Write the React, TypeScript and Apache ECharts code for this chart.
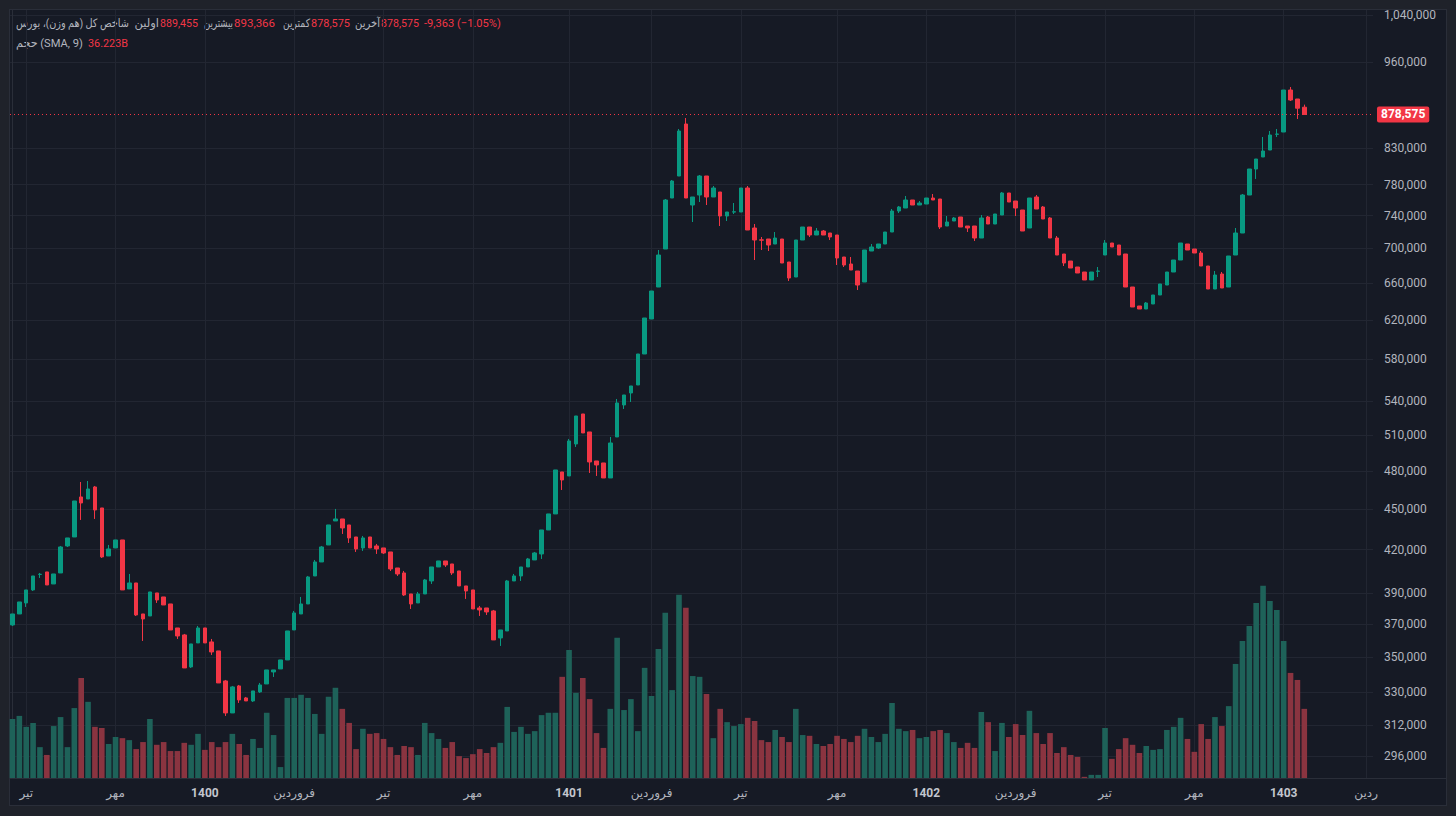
import React, { useEffect, useRef } from "react";
import * as echarts from "echarts";

// weekly candles: [open, close, low, high]
const OHLC: number[][] = [
  [369670, 376630, 369040, 376630], [376630, 384370, 376630, 384370], [383720, 392280, 381130, 392280], [392280, 401700, 391610, 401700],
  [402700, 402900, 400340, 403750], [404440, 395620, 395620, 404440], [396290, 403060, 396290, 403060], [403750, 421950, 403750, 422660],
  [422660, 428450, 421950, 428450], [429150, 456170, 429150, 456170], [459280, 454640, 441720, 471110], [457730, 465550, 457730, 471910],
  [467130, 449270, 442470, 467920], [450800, 414860, 414150, 450800], [415560, 420520, 415560, 423380], [421240, 426990, 421240, 426990],
  [426990, 392280, 392280, 426990], [392950, 396960, 392950, 403060], [396960, 375990, 375350, 396960], [376630, 373450, 359780, 376630],
  [375350, 390950, 375350, 390950], [390290, 385680, 383720, 390290], [387650, 382420, 382420, 387650], [383070, 366550, 366550, 383070],
  [367790, 362840, 361000, 367790], [363460, 343680, 343680, 364080], [344270, 357960, 343680, 357960], [358570, 367790, 358570, 369040],
  [367790, 358570, 358570, 367790], [359170, 353130, 351340, 361000], [353730, 335050, 335050, 353730], [336190, 318430, 316810, 336760],
  [318430, 332790, 318430, 333350], [333350, 325530, 323880, 333910], [326640, 324980, 324980, 327190], [324980, 330540, 324430, 330540],
  [329980, 333910, 329420, 335050], [334480, 342520, 334480, 342520], [341360, 342520, 338470, 342520], [343100, 348380, 343100, 348380],
  [348380, 365930, 348380, 365930], [366550, 377270, 366550, 378560], [376630, 383070, 376630, 387650], [383070, 401020, 383070, 401700],
  [401700, 411350, 401700, 412750], [411350, 421950, 411350, 422660], [423380, 437990, 423380, 437990], [440970, 442470, 440970, 450040],
  [442470, 435770, 431350, 442470], [437990, 428450, 424820, 437990], [429150, 420520, 418390, 429150], [421240, 428450, 419100, 429890],
  [429150, 421240, 421240, 429150], [422660, 420520, 416970, 424100], [421240, 417680, 416970, 421240], [418390, 406500, 405120, 418390],
  [407190, 403060, 401700, 407190], [403750, 388960, 388310, 405120], [389620, 383070, 379840, 389620], [383720, 389620, 383720, 390950],
  [389620, 398980, 389620, 399660], [398310, 407880, 396290, 407880], [407880, 412050, 407880, 412050], [412050, 409260, 407880, 412050],
  [409960, 403750, 402380, 409960], [405120, 394950, 394950, 405120], [394950, 391610, 386340, 394950], [392280, 379840, 379840, 392280],
  [380480, 379200, 375350, 381770], [380480, 377920, 375990, 380480], [378560, 360390, 360390, 379200], [361620, 366550, 356750, 366550],
  [365930, 398310, 365930, 398980], [398310, 401700, 398310, 403060], [401700, 407880, 398310, 407880], [407880, 413450, 407880, 414150],
  [412750, 417680, 412750, 418390], [416970, 434290, 413450, 434290], [434290, 446240, 434290, 446240], [446240, 480800, 446240, 480800],
  [479170, 472710, 464760, 479170], [475930, 505030, 475930, 506750], [502470, 526900, 499920, 526900], [528690, 511920, 511920, 528690],
  [512800, 487370, 478360, 512800], [488190, 484890, 475930, 488190], [486540, 474320, 474320, 486540], [474320, 503320, 474320, 508470],
  [508470, 538650, 508470, 542310], [536820, 546000, 533190, 546000], [547860, 554390, 539560, 554390], [555330, 585300, 555330, 585300],
  [585300, 622140, 585300, 622140], [621080, 651280, 621080, 651280], [655710, 692270, 655710, 698160], [699350, 759950, 699350, 761240],
  [762530, 784830, 762530, 786170], [791520, 854280, 791520, 857190], [864480, 762530, 762530, 873330], [753530, 763830, 732110, 763830],
  [766420, 791520, 757380, 792860], [791520, 763830, 753530, 791520], [763830, 775580, 763830, 778210], [770350, 739600, 727170, 770350],
  [739600, 744640, 733360, 744640], [744500, 745020, 742120, 756090], [744640, 775580, 744640, 775580], [775580, 722250, 722250, 778210],
  [724700, 710110, 686420, 729640], [710300, 709900, 698160, 713730], [711310, 704110, 696980, 711310], [705300, 712520, 705300, 719810],
  [711310, 682940, 682940, 711310], [684100, 665800, 662420, 684100], [666920, 710110, 666920, 710110], [710110, 725940, 710110, 725940],
  [725940, 716150, 713730, 725940], [716150, 721030, 716150, 724700], [721030, 716150, 716150, 722250], [718590, 713730, 710110, 718590],
  [716150, 688750, 680630, 716150], [689920, 680630, 678330, 689920], [681790, 674880, 674880, 689920], [673740, 657940, 652380, 673740],
  [661290, 698160, 661290, 698160], [696980, 701730, 696980, 705300], [700540, 705300, 699350, 705300], [705300, 719810, 705300, 719810],
  [719810, 745900, 719810, 748440], [745900, 750990, 743380, 752260], [749710, 759950, 749710, 765120], [759950, 753530, 753530, 759950],
  [753530, 756090, 753530, 758660], [754810, 762530, 754810, 762530], [762530, 759950, 759950, 767720], [761240, 725940, 723480, 761240],
  [727170, 732110, 727170, 739600], [733360, 737100, 733360, 738350], [738350, 725940, 725940, 738350], [727170, 724700, 719810, 727170],
  [727170, 712520, 708900, 727170], [712520, 737100, 712520, 740860], [738350, 729640, 729640, 739600], [729640, 742120, 729640, 742120],
  [740860, 769030, 740860, 770350], [769030, 757380, 757380, 769030], [758660, 749710, 739600, 758660], [747170, 721030, 721030, 747170],
  [724700, 762530, 724700, 762530], [763830, 748440, 748440, 766420], [750990, 735850, 735850, 752260], [737100, 712520, 712520, 738350],
  [712520, 692270, 692270, 714940], [693440, 682940, 679480, 693440], [685250, 677180, 677180, 685250], [678330, 671460, 671460, 678330],
  [672600, 663540, 663540, 672600], [663540, 672600, 663540, 672600], [673400, 673740, 666920, 678330], [692270, 706500, 692270, 710110],
  [706500, 701730, 701730, 706500], [704110, 692270, 692270, 704110], [693440, 655710, 655710, 693440], [655710, 633850, 633850, 655710],
  [634920, 631700, 631700, 634920], [631700, 638160, 631700, 639240], [637080, 646880, 637080, 646880], [646880, 659060, 646880, 659060],
  [657940, 672600, 657940, 672600], [672600, 686420, 672600, 686420], [686420, 706500, 686420, 706500], [705300, 698160, 698160, 705300],
  [699350, 694620, 694620, 699350], [694620, 679480, 679480, 696980], [679480, 653490, 653490, 679480], [653490, 669190, 653490, 673740],
  [670320, 654600, 654600, 672600], [655710, 691100, 655710, 691100], [692270, 718590, 692270, 724700], [718590, 766420, 718590, 767720],
  [766420, 800970, 766420, 800970], [800970, 814670, 787510, 814670], [817440, 825790, 817440, 845640], [827200, 848510, 827200, 854280],
  [849500, 849950, 845640, 857190], [852830, 915790, 852830, 915790], [915790, 900390, 898860, 920470], [901920, 887938, 871850, 901920],
  [889455, 878575, 878575, 893366],
];

// weekly volume, billions
const VOLUME_B: number[] = [
  15.1, 15.9, 13.1, 14.1, 7.9, 5.9, 13.3, 15.6, 7.9, 17.9,
  25.6, 19.5, 13.1, 12.8, 8.7, 10.5, 10.2, 9.7, 7.4, 9.2,
  15.1, 8.5, 9.2, 6.9, 6.9, 9.0, 8.5, 11.3, 7.2, 9.2,
  7.9, 9.2, 11.3, 8.7, 5.9, 10.0, 7.7, 16.7, 11.0, 2.8,
  20.5, 20.5, 21.3, 20.5, 16.4, 11.3, 20.8, 23.1, 17.7, 14.1,
  7.4, 12.6, 11.3, 11.5, 10.0, 7.9, 5.9, 8.2, 7.9, 5.9,
  14.1, 11.5, 10.0, 7.7, 9.2, 5.6, 5.1, 6.1, 7.4, 6.4,
  7.9, 9.0, 18.2, 11.8, 13.1, 11.3, 12.0, 16.1, 16.7, 16.7,
  25.9, 32.8, 21.8, 25.6, 20.2, 11.5, 7.7, 17.7, 35.9, 17.4,
  20.2, 12.0, 28.2, 21.0, 33.0, 42.3, 22.5, 46.9, 43.6, 26.1,
  25.9, 21.5, 10.2, 17.7, 14.3, 13.3, 13.8, 15.4, 14.6, 9.7,
  9.2, 12.3, 10.5, 9.2, 17.7, 11.0, 10.8, 8.7, 8.2, 8.7,
  10.8, 10.0, 9.2, 10.8, 12.6, 10.5, 9.2, 11.3, 19.2, 12.6,
  12.0, 12.3, 10.2, 10.5, 12.0, 12.3, 11.5, 9.2, 7.7, 9.0,
  7.7, 16.9, 14.3, 6.9, 14.1, 10.5, 13.8, 11.0, 17.2, 11.5,
  8.7, 11.5, 6.4, 7.9, 5.9, 5.4, 0.3, 0.8, 0.8, 12.8,
  4.9, 7.4, 10.2, 8.5, 6.4, 8.2, 7.2, 7.4, 12.3, 13.1,
  15.4, 10.0, 6.7, 13.8, 10.0, 15.6, 13.3, 18.4, 29.2, 35.1,
  38.9, 44.8, 49.2, 45.3, 43.0, 35.1, 26.9, 25.1, 17.7,
];

const PRICE_TICKS = [296000, 312000, 330000, 350000, 370000, 390000, 420000, 450000, 480000, 510000, 540000, 580000, 620000, 660000, 700000, 740000, 780000, 830000, 960000, 1040000];
const TIME_TICK_INDEX = [2, 15, 28, 41, 54, 67, 81, 93, 106, 120, 133, 146, 159, 172, 185, 197];
const TIME_TICK_LABELS = ["تیر", "مهر", "1400", "فروردین", "تیر", "مهر", "1401", "فروردین", "تیر", "مهر", "1402", "فروردین", "تیر", "مهر", "1403", "ردین"];
const YEAR_LABELS = ["1400", "1401", "1402", "1403"];

const TITLE = "شاخص کل (هم وزن)، بورس";
const LBL_OPEN = "اولین";
const LBL_HIGH = "بیشترین";
const LBL_LOW = "کمترین";
const LBL_CLOSE = "آخرین";
const VOL_TITLE = "حجم (SMA, 9)";
const VOL_SMA_TEXT = "36.223B";

const UP = "#089981";
const DOWN = "#f23645";
const UP_VOL = "#1e6259";
const DOWN_VOL = "#8a3440";
const TEXT = "#b2b5be";
const GRID_LINE = "#222632";
const BORDER = "#2a2e39";
const FONT = "Roboto, 'DejaVu Sans', sans-serif";
const HEADER_SIZE = 11.5;

const fmt = (v: number) => Math.round(v).toLocaleString("en-US");

let measureCtx: CanvasRenderingContext2D | null = null;
function measure(text: string, size: number) {
  if (!measureCtx) measureCtx = document.createElement("canvas").getContext("2d");
  if (!measureCtx) return text.length * size * 0.55;
  measureCtx.font = `${size}px ${FONT}`;
  return measureCtx.measureText(text).width;
}

function buildOption() {
  const last = OHLC[OHLC.length - 1];
  const prevClose = OHLC[OHLC.length - 2][1];
  const change = last[1] - prevClose;
  const pct = (change / prevClose) * 100;
  const changeText = `${change < 0 ? "-" : ""}${fmt(Math.abs(change))} (${pct < 0 ? "−" : ""}${Math.abs(pct).toFixed(2)}%)`;

  const candleData = OHLC.map((d, i) => [i, d[0], d[1], d[2], d[3]]);
  const volData = VOLUME_B.map((v, i) => ({
    value: [i, v],
    itemStyle: { color: OHLC[i][1] >= OHLC[i][0] ? UP_VOL : DOWN_VOL },
  }));

  // text placed at x; fitted horizontally into maxW (only compressed, never stretched)
  const t = (text: string, x: number, y: number, fill: string, align: string = "left", maxW?: number) => {
    let sx = 1;
    if (maxW) {
      const w = measure(text, HEADER_SIZE);
      if (w > maxW) sx = maxW / w;
    }
    return {
      type: "text",
      x,
      y,
      scaleX: sx,
      silent: true,
      style: { text, fill, fontSize: HEADER_SIZE, fontFamily: FONT, align, verticalAlign: "middle" },
    };
  };

  return {
    animation: false,
    backgroundColor: "transparent",
    textStyle: { fontFamily: FONT },
    grid: [
      { left: 10, right: 83, top: 10, bottom: 38, containLabel: false, outerBoundsMode: "none" },
      { left: 10, right: 83, top: 578, bottom: 38, containLabel: false, outerBoundsMode: "none" },
    ],
    xAxis: [
      {
        type: "value",
        gridIndex: 0,
        min: -0.36,
        max: 198,
        axisLine: { show: false },
        axisTick: { show: false, customValues: TIME_TICK_INDEX },
        splitLine: { show: true, lineStyle: { color: GRID_LINE, width: 1 } },
        axisLabel: {
          show: true,
          customValues: TIME_TICK_INDEX,
          margin: 9,
          color: TEXT,
          fontSize: 12,
          fontFamily: FONT,
          formatter: (v: number) => {
            const k = TIME_TICK_INDEX.indexOf(Math.round(v));
            const s = k >= 0 ? TIME_TICK_LABELS[k] : "";
            return YEAR_LABELS.includes(s) ? `{y|${s}}` : s;
          },
          rich: { y: { fontWeight: "bold", color: "#c3c6ce", fontSize: 12, fontFamily: FONT } },
        },
      },
      {
        type: "value",
        gridIndex: 1,
        min: -0.36,
        max: 198,
        show: false,
        splitLine: { show: false },
      },
    ],
    yAxis: [
      {
        type: "log",
        gridIndex: 0,
        position: "right",
        logBase: 10,
        min: 285170,
        max: 1048860,
        axisLine: { show: true, lineStyle: { color: BORDER, width: 1 } },
        axisTick: { show: false, customValues: PRICE_TICKS },
        splitLine: { show: true, lineStyle: { color: GRID_LINE, width: 1 } },
        axisLabel: {
          show: true,
          customValues: PRICE_TICKS,
          margin: 11,
          color: TEXT,
          fontSize: 12,
          fontFamily: FONT,
          formatter: (v: number) => fmt(v),
        },
      },
      {
        type: "value",
        gridIndex: 1,
        min: 0,
        max: 51.2,
        show: false,
        splitLine: { show: false },
      },
    ],
    series: [
      {
        type: "bar",
        xAxisIndex: 1,
        yAxisIndex: 1,
        barWidth: 5.6,
        data: volData,
        z: 1,
        silent: true,
      },
      {
        type: "candlestick",
        xAxisIndex: 0,
        yAxisIndex: 0,
        barWidth: 4,
        encode: { x: 0, y: [1, 2, 3, 4] },
        data: candleData,
        z: 3,
        itemStyle: { color: UP, color0: DOWN, borderColor: UP, borderColor0: DOWN, borderWidth: 1 },
        markLine: {
          silent: true,
          symbol: ["none", "none"],
          animation: false,
          lineStyle: { color: DOWN, type: [1, 3], width: 1, opacity: 1 },
          label: {
            show: true,
            position: "end",
            distance: 4,
            formatter: fmt(last[1]),
            backgroundColor: DOWN,
            color: "#ffffff",
            fontSize: 12,
            fontWeight: "bold",
            fontFamily: FONT,
            padding: [2, 4, 2, 4],
            borderRadius: 2,
          },
          data: [{ yAxis: last[1] }],
        },
      },
    ],
    graphic: [
      {
        type: "line",
        silent: true,
        shape: { x1: 10, y1: 778.5, x2: 1446, y2: 778.5 },
        style: { stroke: BORDER, lineWidth: 1 },
      },
      t(TITLE, 16, 23, TEXT, "left", 113),
      t(LBL_OPEN, 159, 23, TEXT, "right", 26),
      t(fmt(last[0]), 160, 23, DOWN, "left", 38),
      t(LBL_HIGH, 233, 23, TEXT, "right", 29),
      t(fmt(last[3]), 234, 23, DOWN, "left", 42),
      t(LBL_LOW, 310, 23, TEXT, "right", 27),
      t(fmt(last[2]), 311, 23, DOWN, "left", 39),
      t(LBL_CLOSE, 380, 23, TEXT, "right", 25),
      t(fmt(last[1]), 381, 23, DOWN, "left", 38),
      t(changeText, 424, 23, DOWN, "left", 77),
      t(VOL_TITLE, 16, 43, TEXT, "left", 67),
      t(VOL_SMA_TEXT, 88, 43, DOWN, "left", 40),
    ],
  };
}

export default function App() {
  const ref = useRef<HTMLDivElement>(null);
  useEffect(() => {
    if (!ref.current) return;
    const chart = echarts.init(ref.current, null, { renderer: "svg" });
    chart.setOption(buildOption() as any);
    return () => chart.dispose();
  }, []);
  return (
    <div style={{ position: "fixed", left: 0, top: 0, width: 1456, height: 816, background: "#1f222a", overflow: "hidden" }}>
      <div
        style={{
          position: "absolute",
          left: 9,
          top: 9,
          width: 1438,
          height: 797,
          background: "#161a25",
          border: "1px solid #2a2e39",
          boxSizing: "border-box",
        }}
      />
      <div ref={ref} style={{ position: "absolute", left: 0, top: 0, width: 1456, height: 816 }} />
    </div>
  );
}
